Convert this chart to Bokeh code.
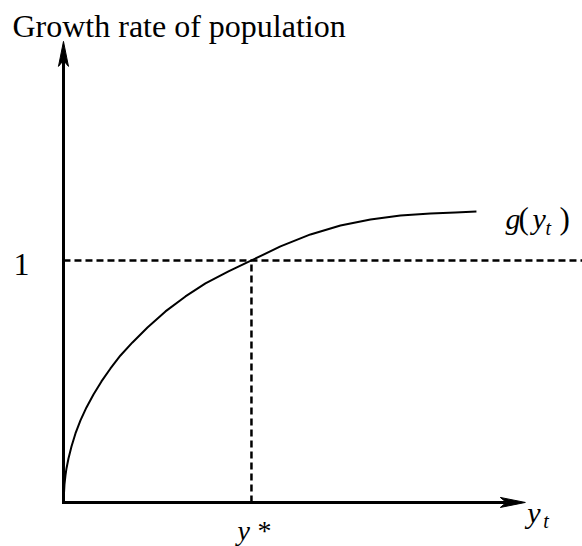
from bokeh.plotting import figure
from bokeh.models import Range1d
from bokeh.core.properties import value
from bokeh.embed import file_html
from bokeh.resources import INLINE

# Growth-rate curve g(y_t): population size on x, growth rate on y
curve_x = [0.0, 0.0053, 0.0106, 0.0160, 0.0266, 0.0426, 0.0638, 0.0904, 0.1223,
           0.1596, 0.2021, 0.25, 0.3032, 0.3670, 0.4468, 0.5426, 0.6489, 0.7553,
           0.8777, 1.0, 1.1543, 1.3138, 1.4734, 1.6330, 1.7926, 1.9521, 2.0851, 2.1968]
curve_y = [0.0, 0.0744, 0.1116, 0.1405, 0.1818, 0.2314, 0.2851, 0.3388, 0.3926,
           0.4463, 0.5, 0.5537, 0.6074, 0.6612, 0.7231, 0.7893, 0.8512, 0.9050,
           0.9545, 1.0, 1.0579, 1.1074, 1.1446, 1.1694, 1.1860, 1.1942, 1.1983, 1.2025]

y_star = 1.0      # steady-state population
g_level = 1.0     # growth rate of one (replacement)
x_axis_end = 2.457
y_axis_end = 1.905

title_text = "Growth rate of population"
level_label = "1"

W, H = 582, 546
x_lo, x_hi = -0.335, 2.761
y_lo, y_hi = -0.182, 2.074
px_x = W / (x_hi - x_lo)   # screen pixels per x unit
px_y = H / (y_hi - y_lo)   # screen pixels per y unit

p = figure(width=W, height=H, x_range=Range1d(x_lo, x_hi), y_range=Range1d(y_lo, y_hi),
           x_axis_type=None, y_axis_type=None, output_backend="svg",
           toolbar_location=None, min_border=0)
p.grid.visible = False
p.outline_line_color = None
p.background_fill_color = "white"
p.border_fill_color = "white"

SERIF = value("Liberation Serif")

# arrowhead geometry (pixels)
head_len, head_half, head_notch = 25, 5, 19

# axes as one path meeting at the origin
p.line([0, 0, x_axis_end - head_notch / px_x], [y_axis_end - head_notch / px_y, 0, 0],
       line_color="black", line_width=3, line_join="miter")

# arrowheads
p.patch([x_axis_end, x_axis_end - head_len / px_x, x_axis_end - head_notch / px_x, x_axis_end - head_len / px_x],
        [0, head_half / px_y, 0, -head_half / px_y], color="black")
p.patch([0, head_half / px_x, 0, -head_half / px_x],
        [y_axis_end, y_axis_end - head_len / px_y, y_axis_end - head_notch / px_y, y_axis_end - head_len / px_y],
        color="black")

# reference lines at g = 1 and y = y*
p.line([0, x_hi], [g_level, g_level], line_color="black", line_width=2.5, line_dash="7 4")
p.line([y_star, y_star], [0, g_level], line_color="black", line_width=2.5, line_dash="7 4")

# the growth curve
p.line(curve_x, curve_y, line_color="black", line_width=2, line_join="round")


def label(x, y, txt, dx, dy, size, style="normal"):
    p.text([x], [y], text=[txt], x_offset=dx, y_offset=dy, text_font=SERIF,
           text_font_size=f"{size}px", text_font_style=style, text_color="black",
           text_align="left", text_baseline="alphabetic")


label(0, y_axis_end, title_text, -51, -15, 32)
label(0, g_level, level_label, -50, 4, 32)

# y* under the steady state
label(y_star, 0, "y", -14, 28, 28, "italic")
label(y_star, 0, "*", 6, 28, 28)

# y_t at the end of the horizontal axis
label(x_axis_end, 0, "y", 2, 10, 30, "italic")
label(x_axis_end, 0, "t", 18, 19, 20, "italic")

# g(y_t) beside the end of the curve
cx, cy = curve_x[-1], curve_y[-1]
label(cx, cy, "g", 29, 7, 30, "italic")
label(cx, cy, "(", 42, 7, 31)
label(cx, cy, "y", 56, 7, 30, "italic")
label(cx, cy, "t", 69, 17, 20, "italic")
label(cx, cy, ")", 83, 7, 31)

open("out.html", "w").write(file_html(p, INLINE))
